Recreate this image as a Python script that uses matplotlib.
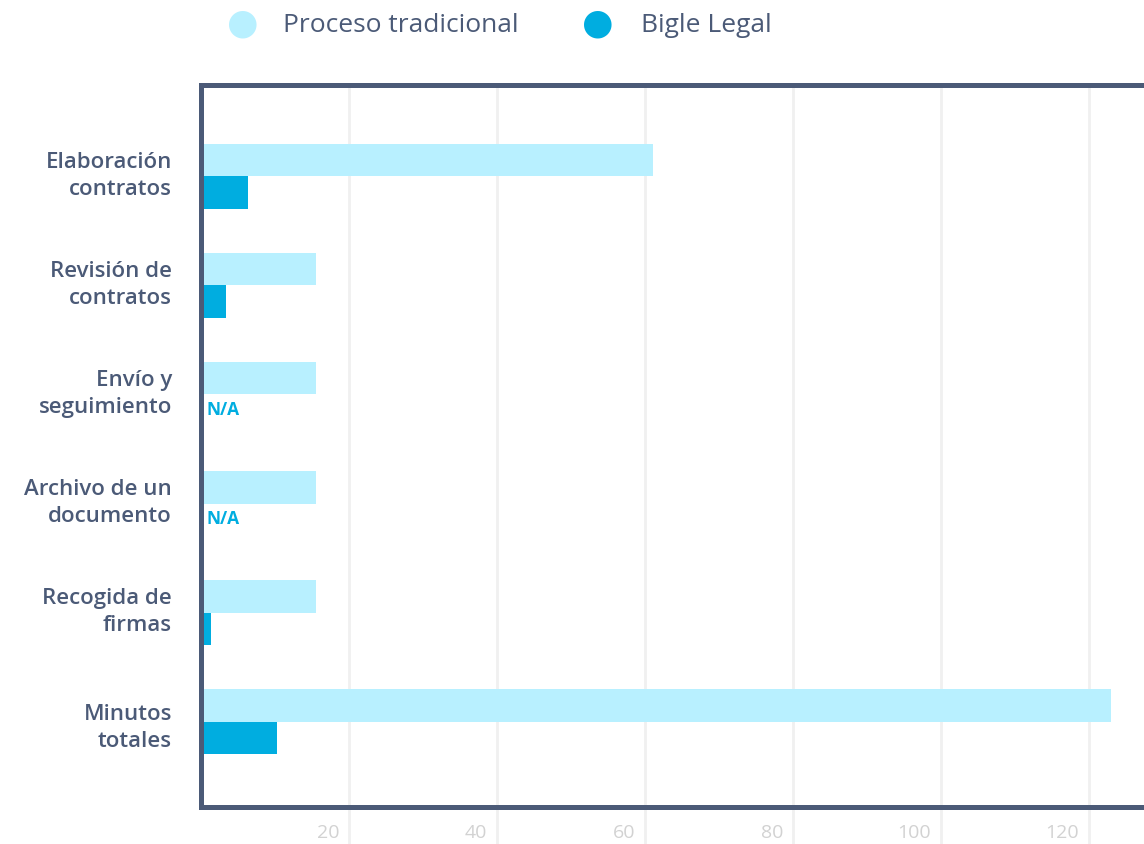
import matplotlib
matplotlib.use("Agg")
import matplotlib.pyplot as plt
import matplotlib.transforms as mtransforms
import numpy as np

# data
categories = ["Elaboración\ncontratos", "Revisión de\ncontratos", "Envío y\nseguimiento",
              "Archivo de un\ndocumento", "Recogida de\nfirmas", "Minutos\ntotales"]
tradicional = [61, 15.5, 15.5, 15.5, 15.5, 123]
bigle = [6.3, 3.4, None, None, 1.4, 10.3]
xticks = [20, 40, 60, 80, 100, 120]

light = "#b8f0ff"
dark = "#00ade0"
slate = "#4b5a77"
font = "Open Sans"

fig = plt.figure(figsize=(11.44, 8.45), dpi=100)
ax = fig.add_axes([0.1757, 0.0441, 1 - 0.1757, 0.898 - 0.0441])

y = np.arange(len(categories))
h = 0.30
ax.barh(y - h / 2, tradicional, height=h, color=light, zorder=2)
for yi, v in zip(y, bigle):
    if v is None:
        ax.text(0.8, yi + h / 2 - 0.02, "N/A", color=dark, fontsize=12.5, fontweight="bold",
                family=font, ha="left", va="center", zorder=3)
    else:
        ax.barh(yi + h / 2, v, height=h, color=dark, zorder=2)

ax.set_xlim(0, 127.4)
ax.set_ylim(5.78, -0.835)

# grid lines run past the bottom spine
for t in xticks:
    ax.axvline(t, ymin=-0.06, ymax=1, color="#f0f0f0", lw=2, clip_on=False, zorder=0)

# x labels sit to the left of their grid line
ax.set_xticks([])
shift = mtransforms.ScaledTranslation(-0.10, 0, fig.dpi_scale_trans)
for t in xticks:
    ax.text(t, -0.035, str(t), transform=ax.get_xaxis_transform() + shift,
            color="#d2d2d2", fontsize=14, family=font, ha="right", va="center")

ax.set_yticks(y)
ax.set_yticklabels(categories, color=slate, fontsize=16, fontweight="semibold",
                   family=font, linespacing=1.37)
ax.tick_params(axis="y", length=0, pad=21)
up = mtransforms.ScaledTranslation(0, 0.07, fig.dpi_scale_trans)
for lab in ax.get_yticklabels()[:-1]:
    lab.set_transform(lab.get_transform() + up)

for side in ["left", "top", "bottom"]:
    ax.spines[side].set_color(slate)
    ax.spines[side].set_linewidth(3.6)
ax.spines["right"].set_visible(False)

# legend
ly = 1 - 26 / 845
fig.text(243 / 1144, 1 - 24 / 845, "\u25cf", color=light, fontsize=26, ha="center", va="center")
fig.text(283 / 1144, ly, "Proceso tradicional", color=slate, fontsize=19,
         family=font, ha="left", va="center")
fig.text(598 / 1144, 1 - 24 / 845, "\u25cf", color=dark, fontsize=26, ha="center", va="center")
fig.text(641 / 1144, ly, "Bigle Legal", color=slate, fontsize=19,
         family=font, ha="left", va="center")

fig.savefig("out.png", dpi=100)
